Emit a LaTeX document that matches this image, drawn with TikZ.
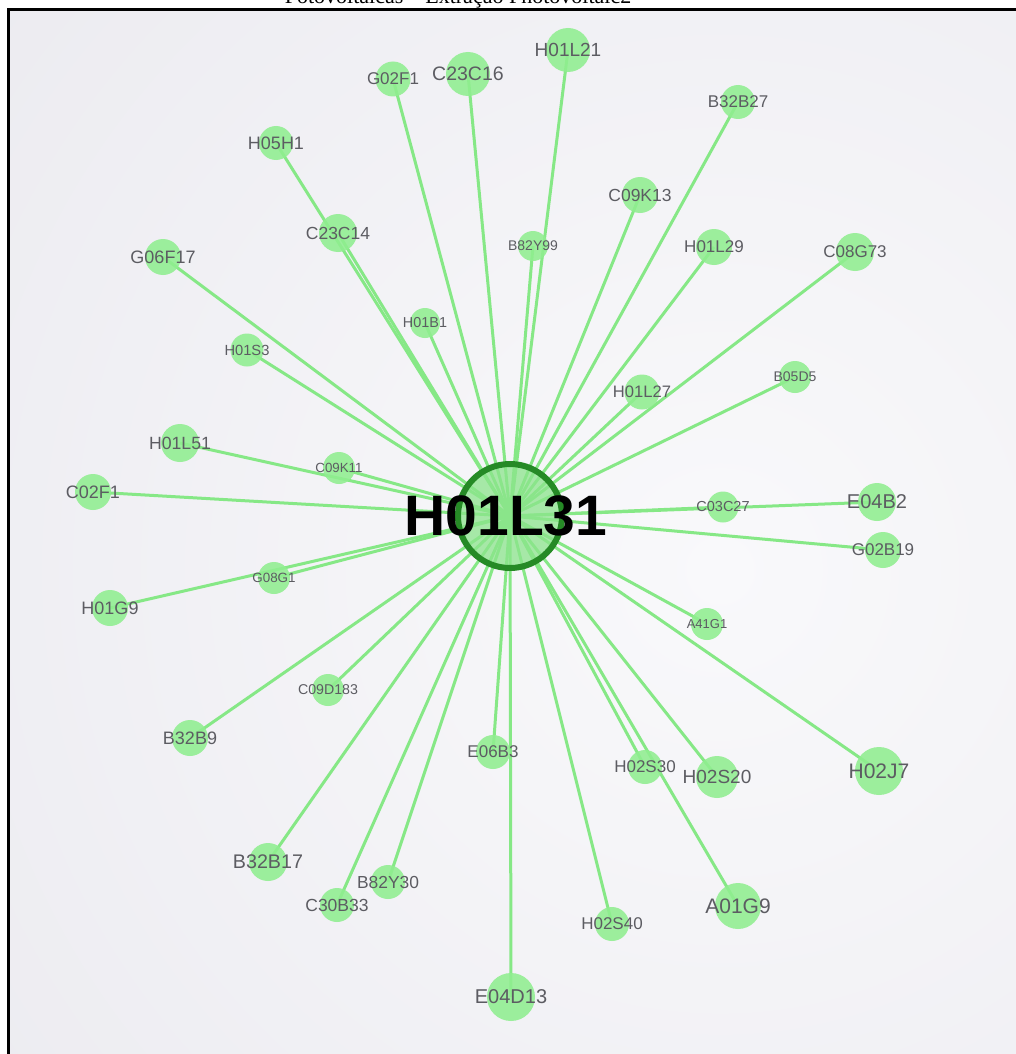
\documentclass[tikz,border=0pt]{standalone}
\usepackage{fontspec}
\setmainfont{Liberation Serif}
\newfontfamily\labelfont{Liberation Sans}

\definecolor{nodegreen}{RGB}{144,238,144}
\definecolor{edgegreen}{RGB}{134,232,134}
\definecolor{hubring}{RGB}{38,138,38}
\definecolor{hubfill}{RGB}{140,228,140}
\definecolor{labelgray}{RGB}{92,92,98}
\definecolor{paperdark}{RGB}{228,227,234}
\definecolor{paperlight}{RGB}{249,249,251}

\pgfdeclarelayer{backdrop}
\pgfdeclarelayer{spokes}
\pgfsetlayers{backdrop,spokes,main}

\begin{document}
\begin{tikzpicture}[x=1pt,y=-1pt,
  leaf/.style={circle, fill=nodegreen, fill opacity=0.88, draw=none,
               inner sep=0pt, minimum size=#1},
  tag/.style={font=\labelfont\fontsize{#1}{#1}\selectfont,
              text=labelgray, text opacity=1, inner sep=0pt},
  link/.style={draw=edgegreen, line width=3pt}]

\useasboundingbox (0,0) rectangle (1016,1054);

% paper with a soft light centre
\begin{pgfonlayer}{backdrop}
  \fill[white] (0,0) rectangle (1016,1054);
  \begin{scope}
    \clip (9,9) rectangle (1016,1054);
    \fill[paperdark] (9,9) rectangle (1016,1054);
    \shade[inner color=paperlight, outer color=paperdark]
      (720,570) circle[radius=1500];
  \end{scope}
  \draw[line width=3.5pt] (8.7,1054) -- (8.7,9.3) -- (1016,9.3);
\end{pgfonlayer}

% caption above the frame
\begin{scope}
  \clip (0,0) rectangle (1016,1054);
  \node[font=\fontsize{22}{22}\selectfont, anchor=base, inner sep=0pt]
    (title) at (458,4) {Fotovoltaicas – Extração Photovoltaic2};
\end{scope}

% central class
\node[circle, fill=hubfill, fill opacity=0.75, draw=hubring, draw opacity=1,
      line width=6pt, minimum size=104pt, inner sep=0pt] (hub) at (510,516) {};
\node[font=\labelfont\bfseries\fontsize{57}{57}\selectfont, text=black, inner sep=0pt]
  (hubtext) at (506,516) {H01L31};

% connected classes
\node[leaf=35, label={[tag=17]center:G02F1}]   (g02f1)  at (393,79)  {};
\node[leaf=44, label={[tag=19.5]center:C23C16}] (c23c16) at (468,74)  {};
\node[leaf=44, label={[tag=19]center:H01L21}]  (h01l21) at (568,50)  {};
\node[leaf=34, label={[tag=17]center:B32B27}]  (b32b27) at (738,102) {};
\node[leaf=34, label={[tag=18]center:H05H1}]   (h05h1)  at (276,143) {};
\node[leaf=36, label={[tag=17.5]center:C09K13}] (c09k13) at (640,195) {};
\node[leaf=38, label={[tag=17.5]center:C23C14}] (c23c14) at (338,233) {};
\node[leaf=30, label={[tag=14]center:B82Y99}]  (b82y99) at (533,246) {};
\node[leaf=36, label={[tag=17]center:H01L29}]  (h01l29) at (714,247) {};
\node[leaf=38, label={[tag=17]center:C08G73}]  (c08g73) at (855,252) {};
\node[leaf=36, label={[tag=18]center:G06F17}]  (g06f17) at (163,257) {};
\node[leaf=30, label={[tag=14.4]center:H01B1}] (h01b1)  at (425,323) {};
\node[leaf=33, label={[tag=14.7]center:H01S3}] (h01s3)  at (247,350) {};
\node[leaf=32, label={[tag=14]center:B05D5}]   (b05d5)  at (795,377) {};
\node[leaf=35, label={[tag=16.6]center:H01L27}] (h01l27) at (642,392) {};
\node[leaf=38, label={[tag=17.7]center:H01L51}] (h01l51) at (180,443) {};
\node[leaf=32, label={[tag=13.3]center:C09K11}] (c09k11) at (339,468) {};
\node[leaf=36, label={[tag=18]center:C02F1}]   (c02f1)  at (93,492)  {};
\node[leaf=31, label={[tag=14.5]center:C03C27}] (c03c27) at (723,507) {};
\node[leaf=38, label={[tag=20]center:E04B2}]   (e04b2)  at (877,502) {};
\node[leaf=36, label={[tag=17]center:G02B19}]  (g02b19) at (883,550) {};
\node[leaf=32, label={[tag=13.4]center:G08G1}] (g08g1)  at (274,578) {};
\node[leaf=36, label={[tag=18]center:H01G9}]   (h01g9)  at (110,608) {};
\node[leaf=32, label={[tag=13]center:A41G1}]   (a41g1)  at (707,624) {};
\node[leaf=32, label={[tag=14.2]center:C09D183}] (c09d183) at (328,690) {};
\node[leaf=36, label={[tag=18]center:B32B9}]   (b32b9)  at (190,738) {};
\node[leaf=34, label={[tag=17]center:E06B3}]   (e06b3)  at (493,752) {};
\node[leaf=34, label={[tag=17]center:H02S30}]  (h02s30) at (645,767) {};
\node[leaf=42, label={[tag=19]center:H02S20}]  (h02s20) at (717,777) {};
\node[leaf=48, label={[tag=21]center:H02J7}]   (h02j7)  at (879,771) {};
\node[leaf=38, label={[tag=19.7]center:B32B17}] (b32b17) at (268,862) {};
\node[leaf=34, label={[tag=17.4]center:B82Y30}] (b82y30) at (388,882) {};
\node[leaf=34, label={[tag=17.5]center:C30B33}] (c30b33) at (337,905) {};
\node[leaf=46, label={[tag=21]center:A01G9}]   (a01g9)  at (738,906) {};
\node[leaf=34, label={[tag=17]center:H02S40}]  (h02s40) at (612,924) {};
\node[leaf=48, label={[tag=20]center:E04D13}]  (e04d13) at (511,997) {};

% spokes from the central class, kept beneath the circles
\begin{pgfonlayer}{spokes}
  \foreach \n in {g02f1,c23c16,h01l21,b32b27,h05h1,c09k13,c23c14,b82y99,
                  h01l29,c08g73,g06f17,h01b1,h01s3,b05d5,h01l27,h01l51,
                  c09k11,c02f1,c03c27,e04b2,g02b19,g08g1,h01g9,a41g1,
                  c09d183,b32b9,e06b3,h02s30,h02s20,h02j7,b32b17,b82y30,
                  c30b33,a01g9,h02s40,e04d13}
    \draw[link] (hub.center) -- (\n.center);
\end{pgfonlayer}
\end{tikzpicture}
\end{document}
